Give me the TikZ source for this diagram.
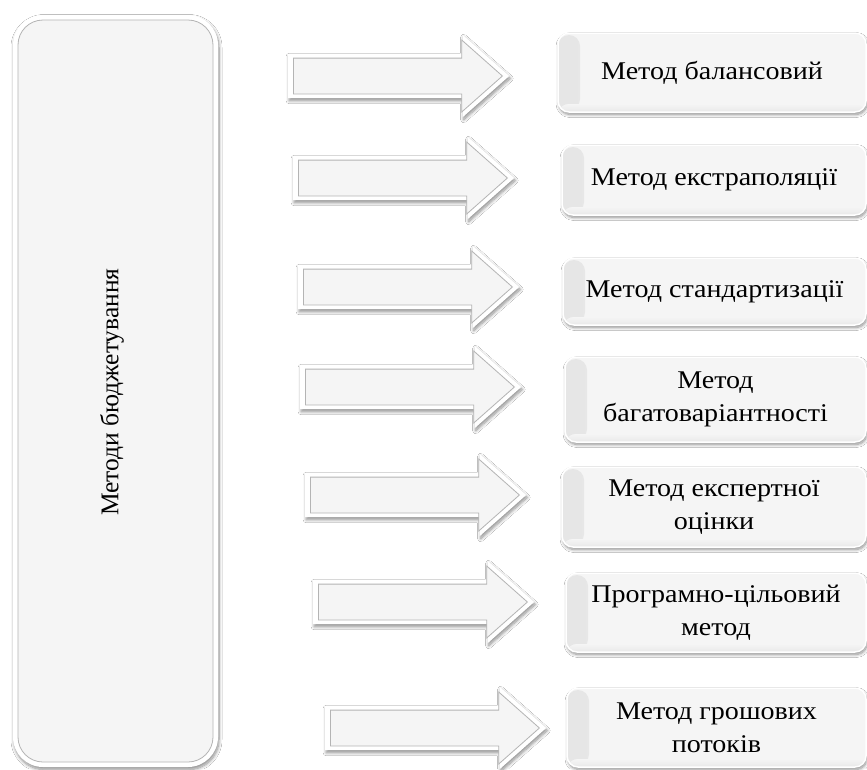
\documentclass[tikz,border=0pt]{standalone}
\usepackage{graphicx}
\usepackage{fontspec}
\setmainfont{Liberation Serif}
\usetikzlibrary{shapes.arrows,shadows.blur}
\newcommand{\hs}[1]{\scalebox{1.1}[1]{#1}}
\definecolor{facefill}{HTML}{F5F5F5}
\definecolor{rimline}{HTML}{B4B4B4}
\tikzset{
  softshadow/.style={blur shadow={shadow blur steps=10, shadow xshift=1pt, shadow yshift=-2.5pt, shadow blur radius=3pt, shadow opacity=45}},
  bigout/.style={rectangle, rounded corners=30pt, fill=white, softshadow, minimum width=205pt, minimum height=752pt},
  bigin/.style={rectangle, rounded corners=25pt, fill=facefill, draw=rimline, line width=0.8pt, minimum width=195pt, minimum height=742pt},
  arrowout/.style={single arrow, anchor=tail, fill=white, softshadow, inner xsep=0pt, inner ysep=22pt, single arrow head extend=19pt, single arrow tip angle=83, minimum height=221pt},
  arrowin/.style={single arrow, anchor=tail, fill=facefill, draw=rimline, line width=0.8pt, inner xsep=0pt, inner ysep=17.5pt, single arrow head extend=18pt, single arrow tip angle=83, minimum height=209pt},
  methodbox/.style={rectangle, rounded corners=11pt, fill=facefill, draw=white, line width=1.5pt, softshadow, align=center,
    font=\fontsize{25.5}{33}\selectfont, inner sep=0pt,
    path picture={
      \fill[left color=gray!20, right color=facefill] ([yshift=2pt]path picture bounding box.south west) rectangle ([xshift=22pt,yshift=-2pt]path picture bounding box.north west);
      \fill[top color=facefill, bottom color=gray!18] ([yshift=8pt]path picture bounding box.south west) rectangle (path picture bounding box.south east);
    }},
  sidelabel/.style={rotate=90, font=\fontsize{25.5}{30}\selectfont}
}
\begin{document}
\begin{tikzpicture}[x=1pt,y=-1pt]
\useasboundingbox[fill=white] (0,0) rectangle (867,769);

% main box
\node[bigout] (mainout) at (115.5,391) {};
\node[bigin] (main) at (115.5,391) {};
\node[sidelabel] (mainlabel) at (112,392) {Методи бюджетування};

% arrows
\node[arrowout] (a1o) at (288,76) {};
\node[arrowin]  (a1)  at (293,76) {};
\node[arrowout] (a2o) at (293,178) {};
\node[arrowin]  (a2)  at (298,178) {};
\node[arrowout] (a3o) at (298,287) {};
\node[arrowin]  (a3)  at (303,287) {};
\node[arrowout] (a4o) at (300,387) {};
\node[arrowin]  (a4)  at (305,387) {};
\node[arrowout] (a5o) at (305,495) {};
\node[arrowin]  (a5)  at (310,495) {};
\node[arrowout] (a6o) at (313,602) {};
\node[arrowin]  (a6)  at (318,602) {};
\node[arrowout] (a7o) at (325,728) {};
\node[arrowin]  (a7)  at (330,728) {};

% method boxes
\node[methodbox, minimum width=308pt, minimum height=79pt] (m1) at (712,72.5) {\hs{Метод балансовий}};
\node[methodbox, minimum width=304pt, minimum height=70pt] (m2) at (714,180) {\hs{Метод екстраполяції}};
\node[methodbox, minimum width=303pt, minimum height=67pt] (m3) at (714.5,291.5) {\hs{Метод стандартизації}};
\node[methodbox, minimum width=301pt, minimum height=85pt] (m4) at (715.5,399.5) {\hs{Метод}\\\hs{багатоваріантності}};
\node[methodbox, minimum width=304pt, minimum height=80pt] (m5) at (714,507) {\hs{Метод експертної}\\\hs{оцінки}};
\node[methodbox, minimum width=300pt, minimum height=79pt] (m6) at (716,612.5) {\hs{Програмно-цільовий}\\\hs{метод}};
\node[methodbox, minimum width=299pt, minimum height=79pt] (m7) at (716.5,727.5) {\hs{Метод грошових}\\\hs{потоків}};
\end{tikzpicture}
\end{document}
